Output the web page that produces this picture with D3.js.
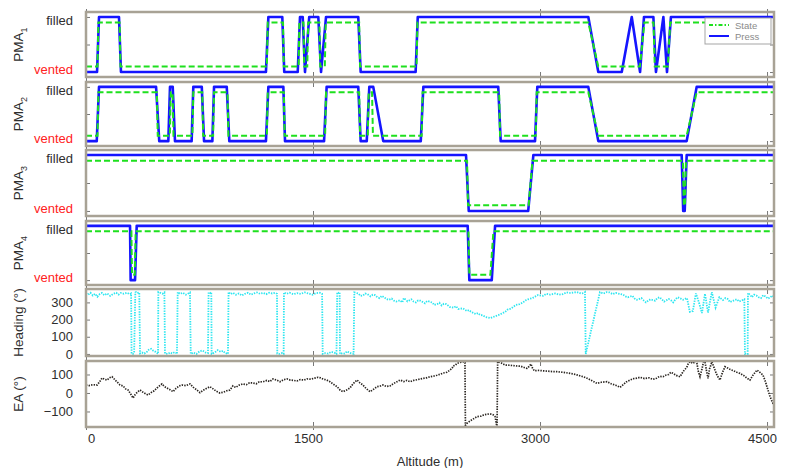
<!DOCTYPE html>
<html><head><meta charset="utf-8">
<script src="https://cdn.jsdelivr.net/npm/d3@7"></script>
<style>
body{margin:0;background:#fff}
svg{display:block;font-family:"Liberation Sans",Arial,Helvetica,sans-serif}
</style>
</head><body>
<svg id="chart" width="788" height="468"></svg>
<script>
// ---- Data: altitude (m) vs. value ----
// PMA valve pressure (0 = vented, 1 = filled) and commanded state
const pma1Press = [[0,0],[73,0],[86,1],[218,1],[231,0],[1189,0],[1205,1],[1297,1],[1310,0],[1399,0],[1414,1],[1432,1],[1447,0],[1475,1],[1535,1],[1553,0],[1586,1],[1799,1],[1815,0],[2178,0],[2192,1],[3319,1],[3385,0],[3540,0],[3606,1],[3661,0],[3687,1],[3749,1],[3766,0],[3815,1],[3839,0],[3865,1],[4546,1]];
const pma1State = [[0,0],[76,0],[82,1],[222,1],[228,0],[1195,0],[1201,1],[1302,1],[1307,0],[1405,0],[1410,1],[1437,1],[1442,0],[1462,0],[1468,1],[1542,1],[1548,0],[1578,0],[1584,1],[1805,1],[1811,0],[2184,0],[2190,1],[3319,1],[3385,0],[3660,0],[3690,1],[3750,1],[3758,0],[3845,0],[3860,1],[4546,1]];

const pma2Press = [[0,0],[71,0],[86,1],[463,1],[484,0],[544,0],[555,1],[573,1],[588,0],[698,0],[709,1],[765,1],[780,0],[835,0],[846,1],[930,1],[947,0],[1189,0],[1205,1],[1304,1],[1315,0],[1573,0],[1590,1],[1799,1],[1815,0],[1855,0],[1872,1],[1898,1],[1964,0],[2212,0],[2229,1],[2724,1],[2740,0],[2967,0],[2982,1],[3319,1],[3385,0],[3969,0],[4035,1],[4546,1]];
const pma2State = [[0,0],[76,0],[82,1],[468,1],[474,0],[554,0],[560,1],[572,1],[578,0],[703,0],[709,1],[768,1],[774,0],[840,0],[846,1],[935,1],[941,0],[1195,0],[1201,1],[1307,1],[1313,0],[1580,0],[1586,1],[1805,1],[1811,0],[1862,0],[1868,1],[1890,1],[1896,0],[2218,0],[2224,1],[2730,1],[2736,0],[2972,0],[2978,1],[3319,1],[3385,0],[3969,0],[4035,1],[4546,1]];

const pma3Press = [[0,1],[2511,1],[2529,0],[2922,0],[2956,1],[3936,1],[3946,0],[3956,0],[3969,1],[4546,1]];
const pma3State = [[0,1],[2518,1],[2524,0],[2925,0],[2950,1],[3944,1],[3950,0],[3958,0],[3964,1],[4546,1]];

const pma4Press = [[0,1],[291,1],[295,0],[324,0],[335,1],[2522,1],[2533,0],[2681,0],[2703,1],[4546,1]];
const pma4State = [[0,1],[300,1],[304,0],[322,0],[328,1],[2527,1],[2533,0],[2672,0],[2692,1],[4546,1]];

// Heading (deg)
const heading = [[0,352],[15,345],[30,356],[45,340],[60,350],[75,333],[90,348],[105,355],[120,342],[140,352],[160,338],[180,350],[200,356],[215,345],[230,355],[250,350],[270,356],[290,348],[298,352],
[301,2],[310,0],[318,5],[326,358],[330,360],[336,355],[352,358],[357,3],[370,8],[385,2],[400,10],[415,25],[430,30],[445,18],[460,12],[470,5],[476,0],
[478,360],[490,356],[505,350],[518,358],[522,2],[540,0],[555,8],[570,3],[585,10],[598,5],[601,0],[606,360],[620,350],[640,356],[660,345],[675,352],[687,358],[692,0],[710,8],[730,0],[750,15],[770,20],[790,8],[806,5],[810,358],[820,355],[828,360],[830,0],[850,8],[870,22],[890,12],[905,18],[920,5],[938,0],[942,360],[955,348],[971,356],[990,345],[1010,352],[1030,340],[1050,350],[1070,356],[1090,345],[1110,352],[1130,358],[1150,350],[1170,355],[1190,348],[1210,356],[1230,352],[1250,356],[1262,350],[1264,2],[1280,0],[1295,5],[1306,0],[1308,358],[1325,350],[1345,356],[1370,348],[1395,354],[1420,350],[1445,358],[1470,352],[1495,345],[1520,354],[1545,356],[1560,350],[1564,0],[1580,5],[1600,2],[1620,12],[1640,8],[1655,0],[1660,358],[1670,355],[1676,360],[1678,0],[1695,5],[1710,2],[1725,15],[1740,8],[1755,3],[1768,0],[1773,358],
[1800,352],[1815,338],[1830,340],[1845,352],[1860,348],[1880,335],[1895,345],[1910,342],[1925,330],[1940,325],[1955,338],[1970,330],[1985,320],[2000,315],[2020,322],[2035,310],[2050,305],[2075,312],[2090,300],[2100,325],[2125,306],[2150,318],[2165,305],[2180,300],[2195,312],[2210,310],[2240,295],[2255,308],[2270,305],[2290,298],[2300,285],[2320,290],[2335,298],[2350,282],[2365,292],[2380,290],[2405,273],[2430,270],[2445,278],[2460,262],[2490,265],[2517,250],[2530,255],[2545,245],[2575,232],[2590,238],[2603,228],[2620,225],[2640,215],[2670,209],[2700,218],[2720,225],[2736,230],[2770,245],[2785,258],[2802,262],[2820,272],[2840,285],[2865,290],[2888,300],[2905,312],[2920,318],[2950,325],[2970,335],[2987,343],[3020,338],[3040,350],[3066,345],[3100,352],[3125,345],[3150,348],[3175,358],[3200,355],[3244,360],[3270,352],[3290,355],[3297,360],[3302,0],[3396,360],[3420,352],[3440,360],[3460,358],[3480,348],[3500,355],[3525,350],[3548,345],[3565,335],[3580,330],[3610,338],[3625,322],[3640,315],[3670,325],[3685,312],[3700,300],[3715,310],[3730,318],[3760,310],[3775,325],[3790,330],[3805,318],[3820,305],[3850,320],[3865,312],[3880,300],[3895,318],[3910,330],[3930,322],[3945,315],[3971,325],[3990,245],[4010,250],[4030,352],[4050,300],[4070,238],[4090,350],[4110,240],[4135,360],[4160,270],[4185,330],[4209,314],[4225,325],[4240,320],[4255,302],[4270,308],[4300,318],[4315,305],[4330,310],[4350,318],[4354,0],[4366,2],[4372,0],[4374,355],[4390,342],[4400,330],[4415,345],[4430,340],[4445,330],[4460,325],[4475,342],[4490,335],[4505,322],[4520,328],[4535,340],[4546,332]];

// EA (deg)
const ea = [[0,43],[20,40],[45,45],[73,43],[90,60],[106,81],[120,75],[139,70],[155,82],[172,88],[182,80],[192,70],[205,60],[225,43],[245,38],[262,22],[278,16],[295,-5],[311,-27],[325,-8],[340,5],[357,16],[375,5],[395,-5],[410,-11],[430,2],[450,12],[469,27],[485,38],[502,49],[518,35],[535,27],[555,18],[575,7],[595,25],[615,38],[634,43],[660,40],[687,49],[710,30],[733,16],[753,2],[770,12],[790,22],[819,34],[840,22],[860,10],[885,0],[910,5],[930,12],[951,16],[971,38],[990,30],[1010,42],[1037,49],[1060,45],[1080,55],[1103,54],[1125,50],[1145,60],[1170,61],[1195,68],[1215,62],[1236,76],[1260,70],[1282,61],[1305,72],[1328,76],[1350,70],[1372,68],[1394,65],[1415,72],[1440,70],[1460,76],[1485,75],[1510,80],[1533,85],[1550,82],[1566,76],[1590,70],[1612,61],[1630,50],[1645,42],[1659,34],[1680,15],[1698,7],[1720,15],[1744,27],[1765,50],[1791,70],[1810,55],[1830,43],[1850,25],[1877,7],[1900,20],[1923,34],[1945,38],[1962,43],[1985,35],[2009,38],[2030,50],[2055,61],[2075,70],[2100,62],[2120,68],[2141,61],[2165,68],[2190,72],[2227,79],[2250,82],[2273,88],[2300,92],[2320,96],[2339,101],[2360,108],[2385,112],[2405,124],[2420,135],[2425,146],[2440,150],[2451,160],[2470,165],[2491,169],[2500,168],[2504,165],[2507,-175],[2517,-164],[2540,-150],[2560,-140],[2584,-128],[2610,-125],[2630,-118],[2650,-115],[2670,-113],[2690,-118],[2703,-128],[2712,-170],[2716,-178],[2720,170],[2745,162],[2769,151],[2800,150],[2825,148],[2848,146],[2870,145],[2895,138],[2914,133],[2930,145],[2940,157],[2950,135],[2962,120],[2990,122],[3020,120],[3050,118],[3080,116],[3112,115],[3140,113],[3170,110],[3198,106],[3225,102],[3255,95],[3284,88],[3310,80],[3340,68],[3376,52],[3405,58],[3443,61],[3470,50],[3500,42],[3529,31],[3550,45],[3570,60],[3595,70],[3620,78],[3640,80],[3661,85],[3690,78],[3720,82],[3747,74],[3770,80],[3790,90],[3813,88],[3830,96],[3850,100],[3865,112],[3879,106],[3900,95],[3925,88],[3945,115],[3960,130],[3971,142],[3980,160],[3991,169],[4010,160],[4030,172],[4037,160],[4045,120],[4057,88],[4070,130],[4080,168],[4090,169],[4100,120],[4110,79],[4120,130],[4136,169],[4146,145],[4156,124],[4170,95],[4189,70],[4205,110],[4222,142],[4240,135],[4255,128],[4280,120],[4300,112],[4321,106],[4345,95],[4365,82],[4387,70],[4410,100],[4434,124],[4455,110],[4473,97],[4490,60],[4506,16],[4520,-20],[4539,-56],[4546,-60]];

// Tick values / labels
const altTicks = [0, 1500, 3000, 4500];
const pmaTickLabels = ["vented", "filled"];
const headingTicks = [0, 100, 200, 300];
const eaTicks = [-100, 0, 100];
const legendItems = ["State", "Press"];

// ---- Layout ----
const svg = d3.select("#chart");
const X0 = 86, X1 = 774;
const x = d3.scaleLinear().domain([0, 4546]).range([X0, X1]);

const frameColor = "#a8a295";
const tickColor = "#777";
const textColor = "#2e2e2e";

const panels = [
  {top: 12,  h: 65, type: "pma", press: pma1Press, state: pma1State, sub: "1"},
  {top: 82,  h: 64, type: "pma", press: pma2Press, state: pma2State, sub: "2"},
  {top: 150, h: 66, type: "pma", press: pma3Press, state: pma3State, sub: "3"},
  {top: 221, h: 64, type: "pma", press: pma4Press, state: pma4State, sub: "4"},
  {top: 289, h: 67, type: "heading"},
  {top: 361, h: 66, type: "ea"}
];

const defs = svg.append("defs");

panels.forEach((p, i) => {
  const y0 = p.top, y1 = p.top + p.h;
  let y;
  if (p.type === "pma") y = d3.scaleLinear().domain([-0.09, 1.09]).range([y1, y0]);
  else if (p.type === "heading") y = d3.scaleLinear().domain([-12, 378]).range([y1, y0]);
  else y = d3.scaleLinear().domain([-184, 173]).range([y1, y0]);

  const clipId = "clip" + i;
  defs.append("clipPath").attr("id", clipId)
    .append("rect").attr("x", X0).attr("y", y0).attr("width", X1 - X0).attr("height", p.h);

  const g = svg.append("g");

  // inner ticks, both sides, plus altitude ticks top/bottom
  const yTickVals = p.type === "pma" ? [0, 0.5, 1] : (p.type === "heading" ? headingTicks : eaTicks);
  const la = g.append("g").attr("transform", `translate(${X0},0)`)
    .call(d3.axisLeft(y).tickValues(yTickVals).tickSize(-4).tickFormat(""));
  const ra = g.append("g").attr("transform", `translate(${X1},0)`)
    .call(d3.axisRight(y).tickValues(yTickVals).tickSize(-4).tickFormat(""));
  const ba = g.append("g").attr("transform", `translate(0,${y1})`)
    .call(d3.axisBottom(x).tickValues(altTicks).tickSize(-5).tickFormat(""));
  const ta = g.append("g").attr("transform", `translate(0,${y0})`)
    .call(d3.axisTop(x).tickValues(altTicks).tickSize(-5).tickFormat(""));
  ba.selectAll(".tick line").attr("y2", -5).attr("y1", 3);
  ta.selectAll(".tick line").attr("y2", 5).attr("y1", -3);
  [la, ra, ba, ta].forEach(a => {
    a.select(".domain").remove();
    a.selectAll(".tick line").attr("stroke", tickColor).attr("stroke-width", 1);
  });

  // y tick labels
  if (p.type === "pma") {
    const lab = g.append("g").attr("transform", `translate(${X0},0)`)
      .call(d3.axisLeft(y).tickValues([0.1, 0.9]).tickSize(0).tickPadding(13)
        .tickFormat(d => d < 0.5 ? pmaTickLabels[0] : pmaTickLabels[1]));
    lab.select(".domain").remove();
    lab.selectAll("text")
      .attr("font-size", 13)
      .attr("font-family", "'Liberation Sans', Arial, sans-serif")
      .attr("fill", d => d < 0.5 ? "#ff2222" : textColor)
      .attr("dy", d => d < 0.5 ? "0.55em" : "0.15em");
  } else {
    const lab = g.append("g").attr("transform", `translate(${X0},0)`)
      .call(d3.axisLeft(y).tickValues(p.type === "heading" ? headingTicks : eaTicks)
        .tickSize(0).tickPadding(13));
    lab.select(".domain").remove();
    lab.selectAll("text")
      .attr("font-size", 13)
      .attr("font-family", "'Liberation Sans', Arial, sans-serif")
      .attr("fill", textColor);
  }

  // y axis title
  const cy = (y0 + y1) / 2;
  const title = g.append("text")
    .attr("transform", `translate(23,${cy}) rotate(-90)`)
    .attr("text-anchor", "middle")
    .attr("font-size", 13.5)
    .attr("fill", textColor);
  if (p.type === "pma") {
    title.append("tspan").text("PMA");
    title.append("tspan").attr("font-size", 9).attr("dy", 4).text(p.sub);
  } else if (p.type === "heading") {
    title.text("Heading (°)");
  } else {
    title.text("EA (°)");
  }

  // series
  const line = d3.line().x(d => x(d[0])).y(d => y(d[1]));
  const plot = g.append("g").attr("clip-path", `url(#${clipId})`);
  if (p.type === "pma") {
    plot.append("path").datum(p.press)
      .attr("d", line)
      .attr("fill", "none").attr("stroke", "#1515ff").attr("stroke-width", 2.6)
      .attr("stroke-linejoin", "round");
    const stateLine = d3.line().x(d => x(d[0])).y(d => y(0.1 + 0.8 * d[1]));
    plot.append("path").datum(p.state)
      .attr("d", stateLine)
      .attr("fill", "none").attr("stroke", "#1ee01e").attr("stroke-width", 2)
      .attr("stroke-dasharray", "6,3");
  } else if (p.type === "heading") {
    plot.append("path").datum(heading)
      .attr("d", line)
      .attr("fill", "none").attr("stroke", "#2ee6f0").attr("stroke-width", 1.8)
      .attr("stroke-dasharray", "1.4,1.2");
  } else {
    plot.append("path").datum(ea)
      .attr("d", line)
      .attr("fill", "none").attr("stroke", "#2a2520").attr("stroke-width", 1.7)
      .attr("stroke-dasharray", "1.4,1.2");
  }

  // frame
  g.append("rect")
    .attr("x", X0).attr("y", y0).attr("width", X1 - X0).attr("height", p.h)
    .attr("fill", "none").attr("stroke", frameColor).attr("stroke-width", 2.5);

  // altitude labels on the bottom panel
  if (i === panels.length - 1) {
    const xa = svg.append("g").attr("transform", `translate(0,${y1})`)
      .call(d3.axisBottom(x).tickValues(altTicks).tickSize(0).tickPadding(7)
        .tickFormat(d3.format("d")));
    xa.select(".domain").remove();
    xa.selectAll("text")
      .attr("font-size", 13)
      .attr("font-family", "'Liberation Sans', Arial, sans-serif")
      .attr("fill", textColor)
      .attr("dx", d => d === 0 ? 5 : -5);
    svg.append("text")
      .attr("x", (X0 + X1) / 2).attr("y", 466)
      .attr("text-anchor", "middle").attr("font-size", 13).attr("fill", textColor)
      .text("Altitude (m)");
  }
});

// legend in the first panel
const lg = svg.append("g").attr("transform", "translate(705,18)");
lg.append("rect").attr("width", 66).attr("height", 26)
  .attr("fill", "#fff").attr("stroke", "#a5a5a5").attr("stroke-width", 1);
lg.append("line").attr("x1", 4).attr("x2", 24).attr("y1", 7).attr("y2", 7)
  .attr("stroke", "#1ee01e").attr("stroke-width", 2).attr("stroke-dasharray", "4,2,1.5,2");
lg.append("line").attr("x1", 4).attr("x2", 24).attr("y1", 18).attr("y2", 18)
  .attr("stroke", "#1515ff").attr("stroke-width", 2);
lg.selectAll("text.leg").data(legendItems).join("text")
  .attr("class", "leg")
  .attr("x", 30).attr("y", (d, k) => 10.5 + k * 11)
  .attr("font-size", 9.5).attr("fill", "#8a8a8a")
  .text(d => d);
</script>
</body></html>
